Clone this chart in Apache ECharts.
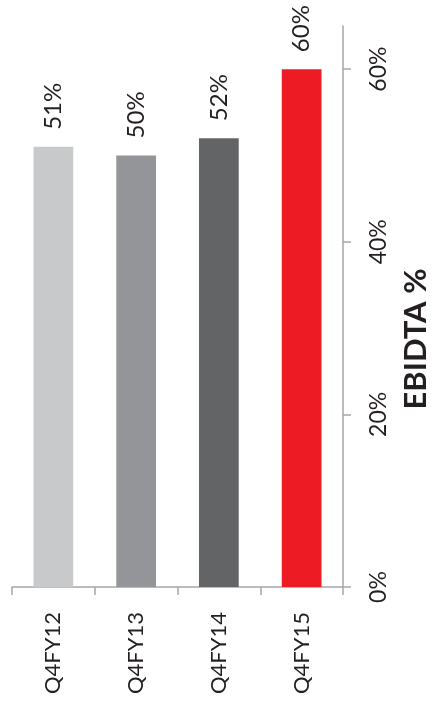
<!DOCTYPE html>
<html>
<head>
<meta charset="utf-8">
<title>EBIDTA %</title>
<script src="https://cdn.jsdelivr.net/npm/echarts@6/dist/echarts.min.js"></script>
<style>
  html, body { margin: 0; padding: 0; background: #ffffff; }
  #chart { width: 443px; height: 708px; }
</style>
</head>
<body>
<div id="chart"></div>
<script>
// Quarterly EBIDTA margin
const categories = ['Q4FY12', 'Q4FY13', 'Q4FY14', 'Q4FY15'];
const ebidtaPct = [51, 50, 52, 60];
const barColors = ['#c8c9cb', '#939598', '#636466', '#ed1c24'];
const tickValues = [0, 20, 40, 60];
const titleText = 'EBIDTA %';

const FONT = 'Lato, "Open Sans", sans-serif';
const TEXT = '#231f20';
const AXIS = '#a6a6a6';

const chart = echarts.init(document.getElementById('chart'), null, { renderer: 'canvas' });

chart.setOption({
  backgroundColor: '#ffffff',
  animation: false,
  grid: { left: 12, right: 100, top: 26, bottom: 121, containLabel: false },
  graphic: [{
    type: 'text',
    x: 416,
    y: 339,
    rotation: Math.PI / 2,
    style: {
      text: titleText,
      fontFamily: FONT,
      fontWeight: 'bold',
      fontSize: 31,
      fill: TEXT,
      align: 'center',
      verticalAlign: 'middle'
    }
  }],
  xAxis: {
    type: 'category',
    data: categories,
    boundaryGap: true,
    axisLine: { show: true, lineStyle: { color: AXIS, width: 1.5 } },
    axisTick: { show: true, length: 8, lineStyle: { color: AXIS, width: 1.5 } },
    axisLabel: {
      rotate: 90,
      margin: 25,
      fontSize: 22,
      fontFamily: FONT,
      color: TEXT
    },
    splitLine: { show: false }
  },
  yAxis: {
    type: 'value',
    position: 'right',
    min: 0,
    max: 65,
    interval: 20,
    axisLine: { show: true, lineStyle: { color: AXIS, width: 1.5 } },
    axisTick: { show: true, length: 8, customValues: tickValues, lineStyle: { color: AXIS, width: 1.5 } },
    axisLabel: {
      customValues: tickValues,
      rotate: 90,
      margin: 24,
      fontSize: 23,
      fontFamily: FONT,
      color: TEXT,
      formatter: v => v + '%'
    },
    splitLine: { show: false }
  },
  series: [{
    type: 'bar',
    barWidth: '48%',
    data: ebidtaPct.map((v, i) => ({ value: v, itemStyle: { color: barColors[i] } })),
    label: {
      show: true,
      position: 'top',
      distance: 17,
      rotate: 90,
      align: 'left',
      verticalAlign: 'middle',
      fontSize: 24,
      fontFamily: FONT,
      color: TEXT,
      formatter: p => p.value + '%'
    }
  }]
});
</script>
</body>
</html>
